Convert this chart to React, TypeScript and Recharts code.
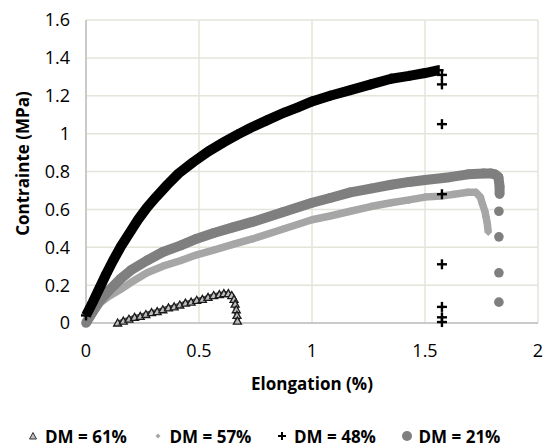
import React from 'react';
import { ComposedChart, Scatter, XAxis, YAxis, CartesianGrid, Legend } from 'recharts';

// DM = 61% (triangles)
const dm61X = [0.14, 0.165, 0.19, 0.215, 0.24, 0.265, 0.29, 0.315, 0.34, 0.365, 0.39, 0.415, 0.44, 0.465, 0.49, 0.515, 0.54, 0.565, 0.59, 0.61, 0.63, 0.645, 0.655, 0.66, 0.665, 0.668, 0.67];
const dm61Y = [0.0, 0.01, 0.02, 0.03, 0.035, 0.045, 0.055, 0.06, 0.07, 0.08, 0.085, 0.095, 0.105, 0.11, 0.12, 0.125, 0.135, 0.145, 0.15, 0.155, 0.155, 0.145, 0.125, 0.1, 0.07, 0.04, 0.01];

// DM = 57% (diamonds)
const dm57X = [0, 0.03, 0.062, 0.1, 0.15, 0.2, 0.27, 0.34, 0.42, 0.49, 0.565, 0.65, 0.74, 0.87, 1.0, 1.08, 1.17, 1.26, 1.35, 1.43, 1.5, 1.57, 1.63, 1.69, 1.725, 1.745, 1.755, 1.765, 1.77, 1.775, 1.78];
const dm57Y = [0, 0.05, 0.105, 0.14, 0.175, 0.215, 0.265, 0.3, 0.33, 0.36, 0.385, 0.415, 0.445, 0.495, 0.545, 0.565, 0.59, 0.615, 0.635, 0.65, 0.665, 0.67, 0.68, 0.69, 0.69, 0.665, 0.625, 0.59, 0.56, 0.53, 0.48];

// DM = 48% (plus) — continuous part and final drop points
const dm48X = [0, 0.03, 0.062, 0.09, 0.12, 0.155, 0.195, 0.23, 0.27, 0.31, 0.36, 0.41, 0.475, 0.54, 0.61, 0.67, 0.727, 0.8, 0.875, 0.94, 1.0, 1.08, 1.17, 1.26, 1.35, 1.43, 1.5, 1.56];
const dm48Y = [0.04, 0.11, 0.19, 0.26, 0.33, 0.405, 0.48, 0.545, 0.61, 0.665, 0.73, 0.79, 0.85, 0.905, 0.955, 0.995, 1.03, 1.07, 1.11, 1.14, 1.17, 1.2, 1.23, 1.26, 1.29, 1.305, 1.32, 1.335];
const dm48DropX = [1.575, 1.575, 1.575, 1.575, 1.575, 1.575, 1.575, 1.575];
const dm48DropY = [1.31, 1.26, 1.05, 0.68, 0.31, 0.085, 0.03, 0.005];

// DM = 21% (circles) — continuous part and final drop points
const dm21X = [0, 0.03, 0.062, 0.1, 0.15, 0.2, 0.27, 0.34, 0.42, 0.49, 0.565, 0.65, 0.74, 0.87, 1.0, 1.08, 1.17, 1.26, 1.35, 1.43, 1.5, 1.61, 1.69, 1.76, 1.79, 1.81, 1.825, 1.83, 1.83];
const dm21Y = [0, 0.06, 0.12, 0.17, 0.23, 0.28, 0.33, 0.375, 0.41, 0.445, 0.475, 0.505, 0.535, 0.585, 0.635, 0.66, 0.69, 0.71, 0.73, 0.745, 0.755, 0.77, 0.785, 0.79, 0.79, 0.785, 0.77, 0.72, 0.68];
const dm21DropX = [1.827, 1.827, 1.827, 1.827];
const dm21DropY = [0.59, 0.455, 0.265, 0.11];

const xTicks = [0, 0.5, 1, 1.5, 2];
const yTicks = [0, 0.2, 0.4, 0.6, 0.8, 1, 1.2, 1.4, 1.6];

const legendLabels = ['DM = 61%', 'DM = 57%', 'DM = 48%', 'DM = 21%'];

const zip = (xs: number[], ys: number[]) => xs.map((x, i) => ({ x, y: ys[i] }));

const FONT = 'Open Sans';
const tickStyle = { fontFamily: FONT, fontSize: 18, fill: '#000' };

const Triangle = (p: any) => {
  const { cx, cy } = p;
  return (
    <path d={`M${cx},${cy - 4} L${cx + 4},${cy + 3} L${cx - 4},${cy + 3} Z`} fill="#bdbdbd" stroke="#1a1a1a" strokeWidth={1.3} />
  );
};
const Diamond = (p: any) => {
  const { cx, cy } = p;
  return <path d={`M${cx},${cy - 4} L${cx + 4},${cy} L${cx},${cy + 4} L${cx - 4},${cy} Z`} fill="#a6a6a6" />;
};
const Plus = (p: any) => {
  const { cx, cy } = p;
  return (
    <g>
      <rect x={cx - 5} y={cy - 1.2} width={10} height={2.4} fill="#000" />
      <rect x={cx - 1.2} y={cy - 5} width={2.4} height={10} fill="#000" />
    </g>
  );
};
const Circle = (p: any) => {
  const { cx, cy } = p;
  return <circle cx={cx} cy={cy} r={4.8} fill="#7f7f7f" />;
};

const legendMarkers = [
  <svg width={12} height={12}><path d="M6,2.5 L9.5,9 L2.5,9 Z" fill="#bdbdbd" stroke="#333" strokeWidth={1} /></svg>,
  <svg width={12} height={12}><path d="M6,3.5 L8.5,6 L6,8.5 L3.5,6 Z" fill="#a6a6a6" /></svg>,
  <svg width={12} height={12}><rect x={2} y={5} width={8} height={2} fill="#000" /><rect x={5} y={2} width={2} height={8} fill="#000" /></svg>,
  <svg width={12} height={12}><circle cx={6} cy={6} r={5} fill="#7f7f7f" /></svg>,
];

const LegendContent = () => (
  <div style={{ height: 30, display: 'flex', alignItems: 'center', paddingTop: 10, paddingLeft: 19, boxSizing: 'border-box' }}>
    {legendLabels.map((l, i) => (
      <div key={l} style={{ width: 124.5, display: 'flex', alignItems: 'center', height: 20 }}>
        {legendMarkers[i]}
        <span style={{ marginLeft: 6, fontFamily: FONT, fontWeight: 700, fontSize: 17, color: '#000', whiteSpace: 'nowrap' }}>{l}</span>
      </div>
    ))}
  </div>
);

export default function App() {
  return (
    <div style={{ position: 'absolute', left: 8, top: 8 }}>
      <ComposedChart width={536} height={438} margin={{ top: 12, right: 6, left: 0, bottom: 0 }} style={{ overflow: 'visible' }}>
        <CartesianGrid stroke="#e4e4da" strokeWidth={1.5} horizontalValues={yTicks} verticalValues={xTicks} />
        <XAxis
          type="number"
          dataKey="x"
          domain={[0, 2]}
          ticks={xTicks}
          height={93}
          tickLine={false}
          tickSize={0}
          tickMargin={21}
          tick={tickStyle}
          axisLine={{ stroke: '#bfbfbf', strokeWidth: 1.5 }}
          label={{
            content: (props: any) => {
              const vb = props.viewBox;
              return (
                <text x={vb.x + vb.width / 2} y={vb.y + 67} textAnchor="middle" fontFamily={FONT} fontWeight={700} fontSize={17} fill="#000">
                  Elongation (%)
                </text>
              );
            },
          }}
        />
        <YAxis
          type="number"
          dataKey="y"
          domain={[0, 1.6]}
          ticks={yTicks}
          width={78}
          tickLine={false}
          tickSize={0}
          tickMargin={16}
          tick={tickStyle}
          axisLine={{ stroke: '#bfbfbf', strokeWidth: 1.5 }}
          label={{
            content: (props: any) => {
              const vb = props.viewBox;
              const cx = vb.x + 14;
              const cy = vb.y + vb.height / 2 - 8;
              return (
                <text x={cx} y={cy} transform={`rotate(-90, ${cx}, ${cy})`} textAnchor="middle" dominantBaseline="central" fontFamily={FONT} fontWeight={700} fontSize={17} fill="#000">
                  Contrainte (MPa)
                </text>
              );
            },
          }}
        />
        <Legend verticalAlign="bottom" height={30} content={<LegendContent />} />
        <Scatter name="DM = 61%" data={zip(dm61X, dm61Y)} line={{ stroke: '#555', strokeWidth: 5, strokeLinejoin: 'round' }} lineType="joint" shape={Triangle} isAnimationActive={false} />
        <Scatter name="DM = 57%" data={zip(dm57X, dm57Y)} line={{ stroke: '#a6a6a6', strokeWidth: 7.5, strokeLinejoin: 'round' }} lineType="joint" shape={Diamond} isAnimationActive={false} />
        <Scatter name="DM = 21%" data={zip(dm21X, dm21Y)} line={{ stroke: '#7f7f7f', strokeWidth: 10, strokeLinejoin: 'round' }} lineType="joint" shape={Circle} isAnimationActive={false} />
        <Scatter name="DM = 21% drop" data={zip(dm21DropX, dm21DropY)} shape={Circle} isAnimationActive={false} legendType="none" />
        <Scatter name="DM = 48%" data={zip(dm48X, dm48Y)} line={{ stroke: '#000', strokeWidth: 10, strokeLinejoin: 'round' }} lineType="joint" shape={Plus} isAnimationActive={false} />
        <Scatter name="DM = 48% drop" data={zip(dm48DropX, dm48DropY)} shape={Plus} isAnimationActive={false} legendType="none" />
      </ComposedChart>
    </div>
  );
}
